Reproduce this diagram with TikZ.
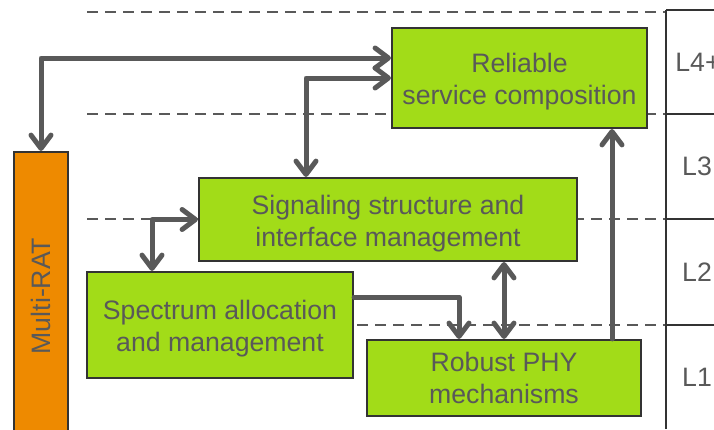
\documentclass[tikz,border=0pt]{standalone}
\usepackage{fontspec}
\setmainfont{Liberation Sans}
\usetikzlibrary{arrows.meta,calc,positioning}
\definecolor{limegreen}{HTML}{A2DC18}
\definecolor{ratorange}{HTML}{EE8A00}
\definecolor{linkgray}{HTML}{595959}
\definecolor{boxline}{HTML}{333333}
\newcommand{\droptext}{\rule{0pt}{20.5pt}}
\tikzset{block/.style={draw=boxline,fill=limegreen,line width=1.6pt,text=linkgray,align=center,
        font=\fontsize{20}{24}\selectfont,inner sep=0},
    ratbar/.style={draw=boxline,fill=ratorange,line width=1.6pt,text=linkgray,inner sep=0,
        font=\fontsize{20}{24}\selectfont},
    link/.style={draw=linkgray,line width=3.75pt,line join=round,line cap=round,
        arrows={Straight Barb[round,length=10pt,width=15pt]-Straight Barb[round,length=10pt,width=15pt]}},
    layerline/.style={draw=linkgray,line width=1.3pt,dash pattern=on 8.25pt off 5.25pt},
    layerlabel/.style={text=linkgray,font=\fontsize{20}{24}\selectfont}
}
\begin{document}
\begin{tikzpicture}[x=0.75pt,y=-0.75pt]
\useasboundingbox (0,0) rectangle (714,429);

% layer borders
\foreach \y in {12,114,219,325}
    \draw [layerline] (87,\y) -- (666,\y);

\draw [boxline,line width=1.2pt] (666,429) -- (666,10);
\foreach \y in {10,114,219,325}
    \draw [boxline,line width=1.2pt] (666,\y) -- (720,\y);

\node [layerlabel] (lfour) at (698,62) {L4+};
\node [layerlabel] (lthree) at (697,166.5) {L3};
\node [layerlabel] (ltwo) at (697,272) {L2};
\node [layerlabel] (lone) at (697,377) {L1};

% blocks
\node (multirat) at (41,296) [ratbar,minimum width=40.5pt,minimum height=216pt] {\rotatebox{90}{Multi-RAT}};
\node (reliable) at (519.5,78) [block,minimum width=191.25pt,minimum height=75pt] {\droptext Reliable\\service composition};
\node (signaling) at (388,219.5) [block,minimum width=283.5pt,minimum height=62.25pt] {\droptext Signaling structure and\\interface management};
\node (spectrum) at (220,325) [block,minimum width=199.5pt,minimum height=79.5pt] {\droptext Spectrum allocation\\and management};
\node (robustphy) at (504,378) [block,minimum width=205.5pt,minimum height=57pt] {Robust PHY\\mechanisms};

% links
\draw [link] (multirat.north) |- ($(reliable.west)+(0,-20)$);
\draw [link] ($(signaling.north)+(-82,0)$) |- (reliable.west);
\draw [link] (signaling.west) -| ($(spectrum.north)+(-68,0)$);
\draw [link,arrows={-Straight Barb[round,length=10pt,width=15pt]}] ($(spectrum.east)+(0,-28)$) -| ($(robustphy.north)+(-45,0)$);
\draw [link] (robustphy.north) -- (robustphy.north |- signaling.south);
\draw [link,arrows={-Straight Barb[round,length=10pt,width=15pt]}] ($(robustphy.north)+(108,0)$) -- ($(reliable.south)+(92.5,0)$);

\end{tikzpicture}
\end{document}
